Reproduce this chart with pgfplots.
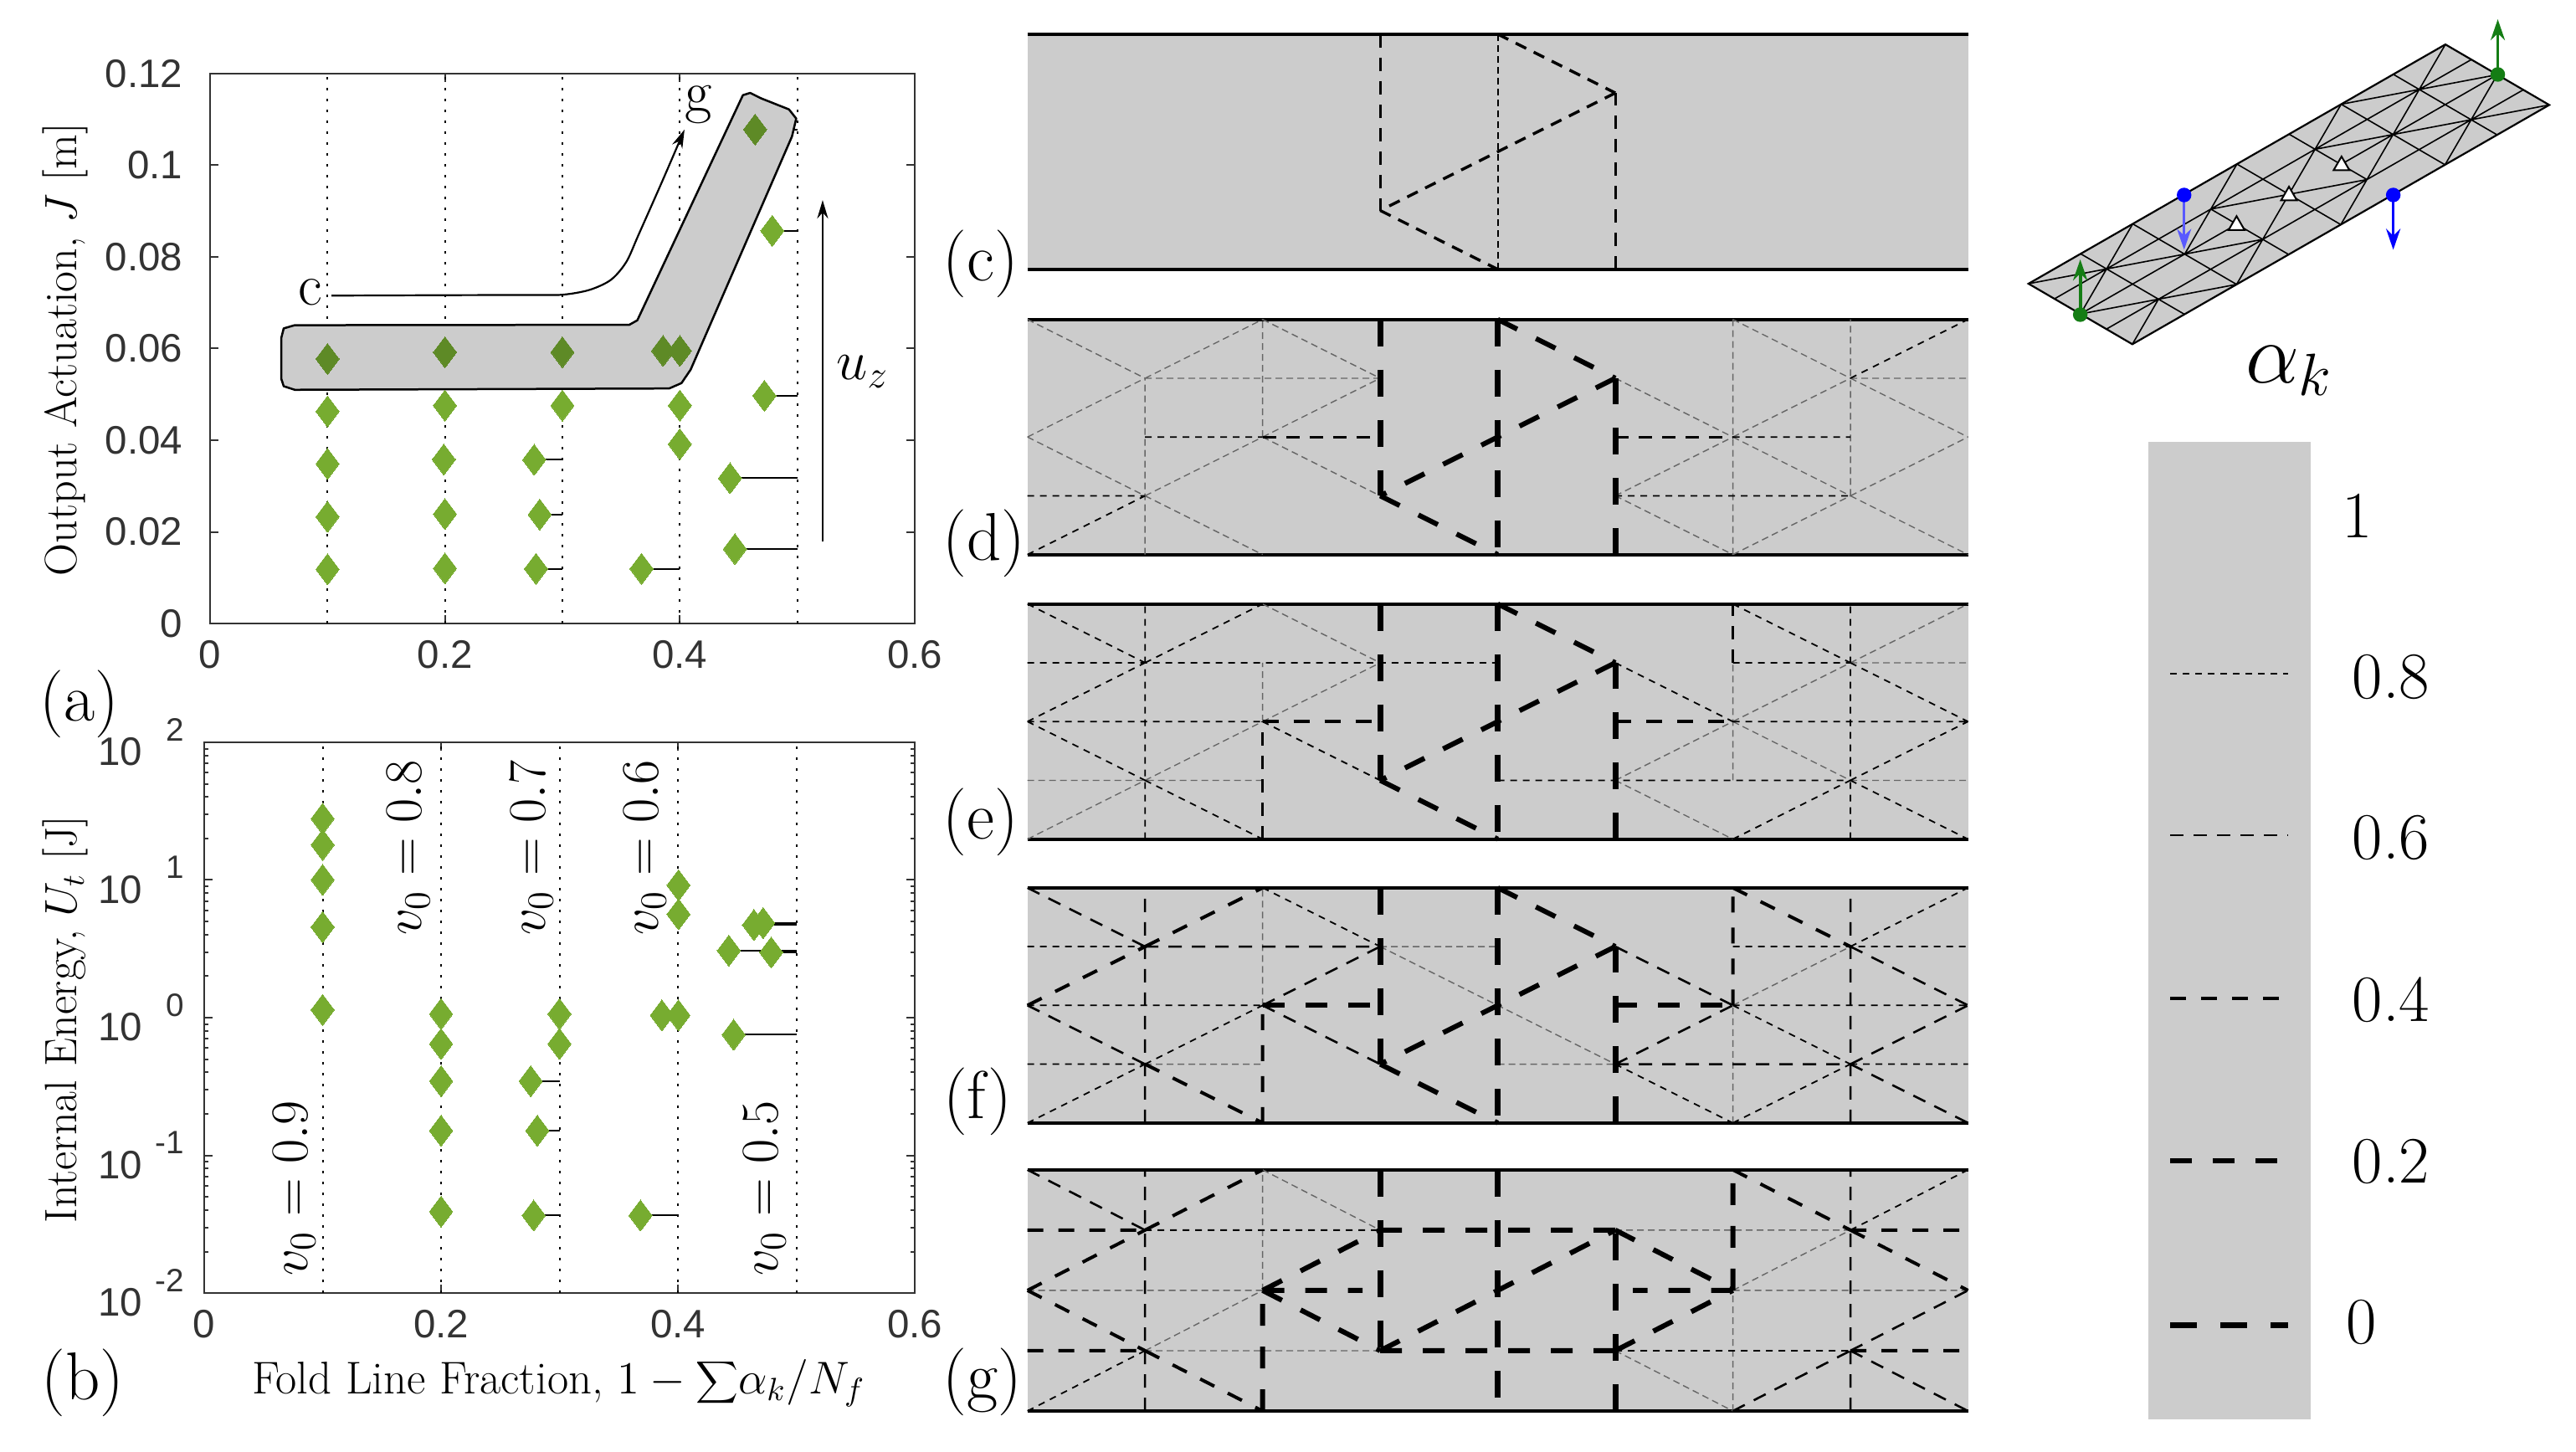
\documentclass[border=0pt]{standalone}
\usepackage{fix-cm}
\usepackage{fontspec}
\usepackage{pgfplots}
\pgfplotsset{compat=1.18}
\usetikzlibrary{arrows.meta}
\newfontfamily\tickfam{Liberation Sans}
\newcommand\fs[1]{\fontsize{#1}{#1}\selectfont}
\newcommand\expo[1]{\raisebox{0.62em}{\makebox[1.05em][r]{\fs{11}#1}}}
\definecolor{foldgray}{gray}{0.8}
\definecolor{axgray}{gray}{0.2}
\definecolor{leaf}{RGB}{119,172,48}
\definecolor{leafdark}{RGB}{94,138,38}
\definecolor{meshgreen}{RGB}{20,125,20}
\pgfplotsset{
  unbounded coords=jump,
  chart/.style={
    scale only axis, clip=false, axis line style={axgray, line width=0.025cm},
    tick style={axgray, line width=0.02cm}, tickwidth=0.1cm, subtickwidth=0.05cm,
    tick align=inside, xmin=0, xmax=0.6,
    xtick={0,0.2,0.4,0.6}, xticklabels={0,0.2,0.4,0.6},
    tick label style={font=\tickfam\fs{13.5}, text=axgray, inner sep=0pt, outer sep=0pt},
    xticklabel shift=0.2cm,
    anchor=south west},
  guide/.style={black, line width=0.02cm, dash pattern=on 0.03cm off 0.1cm},
  stem/.style={black, line width=0.02cm},
  pts/.style={only marks, color=#1, mark=diamond*, mark size=0.185cm, mark options={solid, draw=#1, fill=#1, line width=0pt}},
  panel/.style={hide axis, scale only axis, clip=false, xmin=0, xmax=8, ymin=0, ymax=4,
    width=11.238cm, anchor=south west},
  hair/.style={black!60, line width=0.014cm, dash pattern=on 0.08cm off 0.05cm},
  a08/.style={black, line width=0.018cm, dash pattern=on 0.08cm off 0.07cm},
  a06/.style={black, line width=0.026cm, dash pattern=on 0.16cm off 0.12cm},
  a04/.style={black, line width=0.04cm, dash pattern=on 0.19cm off 0.18cm},
  a02/.style={black, line width=0.06cm, dash pattern=on 0.26cm off 0.25cm},
  a00/.style={black, line width=0.07cm, dash pattern=on 0.32cm off 0.28cm},
  rim/.style={black, line width=0.04cm},
  load/.style={-{Stealth[length=0.25cm,width=0.17cm]}},
}
\newcommand\panelbase{%
  \addplot[fill=foldgray, draw=none] coordinates {(0,0)(8,0)(8,4)(0,4)} -- cycle;
  \addplot[rim] coordinates {(0,4)(8,4)};
  \addplot[rim] coordinates {(0,0)(8,0)};
}
\begin{document}
\begin{tikzpicture}
\path[use as bounding box] (0,0) rectangle (30.78cm,17.34cm);

% (a) output actuation
\begin{axis}[chart, at={(2.51cm,9.89cm)}, width=8.42cm, height=6.57cm,
  ymin=0, ymax=0.12, ytick={0,0.02,0.04,0.06,0.08,0.1,0.12},
  yticklabels={0,0.02,0.04,0.06,0.08,0.1,0.12}, yticklabel shift=0.33cm,
  ylabel={Output Actuation, $J$ [m]},
  y label style={at={(axis description cs:-0.205,0.498)}, anchor=center, font=\fs{15.4}}]
\addplot[guide] coordinates {(0.1,0)(0.1,0.12)};
\addplot[guide] coordinates {(0.2,0)(0.2,0.12)};
\addplot[guide] coordinates {(0.3,0)(0.3,0.12)};
\addplot[guide] coordinates {(0.4,0)(0.4,0.12)};
\addplot[guide] coordinates {(0.5,0)(0.5,0.12)};
\addplot[stem] coordinates {(0.276,0.03573)(0.3,0.03573)};
\addplot[stem] coordinates {(0.2807,0.02378)(0.3,0.02378)};
\addplot[stem] coordinates {(0.2775,0.01194)(0.3,0.01194)};
\addplot[stem] coordinates {(0.3674,0.01194)(0.4,0.01194)};
\addplot[stem] coordinates {(0.4641,0.1078)(0.5,0.1078)};
\addplot[stem] coordinates {(0.4787,0.0857)(0.5,0.0857)};
\addplot[stem] coordinates {(0.472,0.0497)(0.5,0.0497)};
\addplot[stem] coordinates {(0.4427,0.0317)(0.5,0.0317)};
\addplot[stem] coordinates {(0.4469,0.01625)(0.5,0.01625)};
\addplot[fill=foldgray, draw=black, line width=0.025cm, line join=round] coordinates {
  (0.0606,0.06225)(0.0627,0.0644)(0.0721,0.0651)(0.3570,0.06519)(0.3638,0.06617)
  (0.4537,0.1153)(0.4599,0.1158)(0.4693,0.1146)(0.4929,0.1122)(0.4991,0.1102)
  (0.4955,0.1063)(0.4092,0.0554)(0.4014,0.05246)(0.3909,0.05129)(0.0721,0.0510)
  (0.0627,0.05178)(0.0606,0.05344)} -- cycle;
\addplot[pts=leaf] coordinates {
  (0.1,0.0463)(0.1,0.03485)(0.1,0.0233)(0.1,0.01184)
  (0.2,0.04757)(0.199,0.0358)(0.2,0.0239)(0.2,0.01204)
  (0.3,0.04757)(0.276,0.03573)(0.2807,0.02378)(0.2775,0.01194)
  (0.4,0.04757)(0.4,0.03915)(0.3674,0.01194)
  (0.4787,0.0857)(0.472,0.0497)(0.4427,0.0317)(0.4469,0.01625)};
\addplot[pts=leafdark] coordinates {
  (0.1,0.05775)(0.2,0.0592)(0.3,0.0592)(0.3857,0.0595)(0.4,0.0595)(0.4641,0.1078)};
\addplot[black, line width=0.022cm, smooth, -{Stealth[length=0.22cm,width=0.13cm]}] coordinates {
  (0.1035,0.07155)(0.2,0.07165)(0.27,0.0717)(0.3,0.07175)(0.323,0.0728)(0.3413,0.075)(0.3544,0.0789)(0.3648,0.0848)(0.385,0.0965)(0.404,0.1078)};
\addplot[black, line width=0.025cm, -{Stealth[length=0.22cm,width=0.13cm]}] coordinates {(0.5216,0.0179)(0.5216,0.0924)};
\node[font=\fs{20}] at (axis cs:0.0852,0.0722) {c};
\node[font=\fs{20}] at (axis cs:0.416,0.1133) {g};
\node[font=\fs{19}] at (axis cs:0.5556,0.0549) {$u_z$};
\end{axis}

% (b) internal energy
\begin{axis}[chart, at={(2.44cm,1.89cm)}, width=8.49cm, height=6.58cm,
  ymode=log, ymin=0.01, ymax=100, ytick={0.01,0.1,1,10,100},
  yticklabels={10\expo{-2},10\expo{-1},10\expo{0},10\expo{1},10\expo{2}},
  yticklabel shift=0.24cm,
  ylabel={Internal Energy, $U_t$ [J]},
  xlabel={Fold Line Fraction, $1-{\displaystyle\sum}\alpha_k/N_f$},
  y label style={at={(axis description cs:-0.195,0.497)}, anchor=center, font=\fs{15.4}},
  x label style={at={(axis description cs:0.4987,-0.163)}, anchor=center, font=\fs{15.6}}]
\addplot[guide] coordinates {(0.1,0.01)(0.1,100)};
\addplot[guide] coordinates {(0.2,0.01)(0.2,100)};
\addplot[guide] coordinates {(0.3,0.01)(0.3,100)};
\addplot[guide] coordinates {(0.4,0.01)(0.4,100)};
\addplot[guide] coordinates {(0.5,0.01)(0.5,100)};
\addplot[stem] coordinates {(0.2757,0.346)(0.3,0.346)};
\addplot[stem] coordinates {(0.2813,0.151)(0.3,0.151)};
\addplot[stem] coordinates {(0.2782,0.0366)(0.3,0.0366)};
\addplot[stem] coordinates {(0.3684,0.0366)(0.4,0.0366)};
\addplot[stem] coordinates {(0.4642,4.72)(0.5,4.72)};
\addplot[stem] coordinates {(0.472,4.87)(0.5,4.87)};
\addplot[stem] coordinates {(0.443,3.07)(0.5,3.07)};
\addplot[stem] coordinates {(0.4788,2.98)(0.5,2.98)};
\addplot[stem] coordinates {(0.4471,0.752)(0.5,0.752)};
\addplot[pts=leaf] coordinates {
  (0.1,27.9)(0.1,18.0)(0.1,10.04)(0.1,4.55)(0.1,1.14)
  (0.2,1.064)(0.2,0.6457)(0.2,0.346)(0.2,0.151)(0.2,0.039)
  (0.3,1.064)(0.3,0.6457)(0.2757,0.346)(0.2813,0.151)(0.2782,0.0366)
  (0.3684,0.0366)(0.3865,1.04)(0.4005,1.04)(0.4005,9.16)(0.4005,5.64)
  (0.4642,4.72)(0.472,4.87)(0.443,3.07)(0.4788,2.98)(0.4471,0.752)};
\node[rotate=90, font=\fs{18}] at (rel axis cs:0.1265,0.1905) {$v_0=0.9$};
\node[rotate=90, font=\fs{18}] at (rel axis cs:0.2878,0.8088) {$v_0=0.8$};
\node[rotate=90, font=\fs{18}] at (rel axis cs:0.461,0.8088) {$v_0=0.7$};
\node[rotate=90, font=\fs{18}] at (rel axis cs:0.620,0.8088) {$v_0=0.6$};
\node[rotate=90, font=\fs{18}] at (rel axis cs:0.7885,0.1905) {$v_0=0.5$};
\end{axis}

% (c)
\begin{axis}[panel, at={(12.277cm,14.122cm)}, height=2.81cm]
\panelbase
\addplot[a06, line width=0.032cm] coordinates {(3,4)(3,1)};
\addplot[a06, line width=0.03cm] coordinates {(5,0)(5,3)};
\addplot[hair, black, line width=0.018cm] coordinates {(4,0)(4,4)};
\addplot[a04, line width=0.034cm, dash pattern=on 0.14cm off 0.1cm] coordinates {(4,4)(5,3)};
\addplot[a04, line width=0.034cm, dash pattern=on 0.14cm off 0.1cm] coordinates {(5,3)(3,1)};
\addplot[a04, line width=0.034cm, dash pattern=on 0.14cm off 0.1cm] coordinates {(3,1)(4,0)};
\end{axis}

% (d)
\begin{axis}[panel, at={(12.277cm,10.713cm)}, height=2.81cm]
\panelbase
\addplot[hair] coordinates {
  (0,4)(1,3) (0,nan) (1,3)(2,4) (0,nan) (2,4)(3,3) (0,nan) (0,2)(1,3) (0,nan) (2,2)(3,3) (0,nan) (0,2)(1,1) (0,nan)
  (1,1)(2,2) (0,nan) (1,1)(2,0) (0,nan) (2,2)(3,1) (0,nan) (5,3)(6,2) (0,nan) (5,1)(6,2) (0,nan) (5,1)(6,0) (0,nan)
  (6,0)(7,1) (0,nan) (7,1)(8,0) (0,nan) (6,2)(7,1) (0,nan) (7,1)(8,2) (0,nan) (6,2)(7,3) (0,nan) (7,3)(8,2) (0,nan)
  (6,4)(7,3) (0,nan) (1,0)(1,3) (0,nan) (2,2)(2,4) (0,nan) (6,0)(6,4) (0,nan) (7,1)(7,4) (0,nan)
  (1,3)(3,3) (0,nan) (7,3)(8,3)};
\addplot[a08] coordinates {(0,0)(1,1) (0,nan) (7,3)(8,4) (0,nan) (1,2)(2,2) (0,nan) (6,2)(7,2) (0,nan) (0,1)(1,1) (0,nan) (5,1)(7,1)};
\addplot[a06] coordinates {(2,2)(3,2) (0,nan) (5,2)(6,2)};
\addplot[a00] coordinates {(3,4)(3,1)};
\addplot[a00] coordinates {(4,4)(4,0)};
\addplot[a00] coordinates {(5,0)(5,3)};
\addplot[a02] coordinates {(4,4)(5,3)};
\addplot[a02] coordinates {(5,3)(3,1)};
\addplot[a02] coordinates {(3,1)(4,0)};
\end{axis}

% (e)
\begin{axis}[panel, at={(12.277cm,7.313cm)}, height=2.81cm]
\panelbase
\addplot[hair] coordinates {
  (2,4)(3,3) (0,nan) (2,2)(3,3) (0,nan) (0,0)(1,1) (0,nan) (1,1)(2,2) (0,nan) (5,1)(6,2) (0,nan) (5,1)(6,0) (0,nan)
  (6,2)(7,1) (0,nan) (6,2)(7,3) (0,nan) (7,3)(8,4) (0,nan) (2,2)(2,3) (0,nan) (6,1)(6,3) (0,nan) (7,3)(8,3) (0,nan)
  (0,1)(2,1) (0,nan) (7,1)(8,1)};
\addplot[a08] coordinates {
  (0,4)(1,3) (0,nan) (1,3)(2,4) (0,nan) (0,2)(1,3) (0,nan) (0,2)(1,1) (0,nan) (1,1)(2,0) (0,nan) (2,2)(3,1) (0,nan)
  (6,0)(7,1) (0,nan) (7,1)(8,0) (0,nan) (7,1)(8,2) (0,nan) (7,3)(8,2) (0,nan) (6,4)(7,3) (0,nan)
  (1,0)(1,4) (0,nan) (7,0)(7,4) (0,nan) (0,3)(4,3) (0,nan) (6,3)(7,3) (0,nan) (0,2)(2,2) (0,nan) (6,2)(8,2) (0,nan)
  (4,1)(7,1) (0,nan) (5,3)(6,2)};
\addplot[a06] coordinates {(2,0)(2,2) (0,nan) (6,3)(6,4)};
\addplot[a04] coordinates {(2,2)(3,2) (0,nan) (5,2)(6,2)};
\addplot[a00] coordinates {(3,4)(3,1)};
\addplot[a00] coordinates {(4,4)(4,0)};
\addplot[a00] coordinates {(5,0)(5,3)};
\addplot[a02] coordinates {(4,4)(5,3)};
\addplot[a02] coordinates {(5,3)(3,1)};
\addplot[a02] coordinates {(3,1)(4,0)};
\end{axis}

% (f)
\begin{axis}[panel, at={(12.277cm,3.922cm)}, height=2.81cm]
\panelbase
\addplot[hair] coordinates {(3,3)(5,1) (0,nan) (6,2)(7,3) (0,nan) (2,2)(2,4) (0,nan) (6,0)(6,2) (0,nan) (3,3)(4,3) (0,nan) (1,1)(2,1) (0,nan) (4,1)(5,1)};
\addplot[a08] coordinates {
  (2,4)(3,3) (0,nan) (0,0)(1,1) (0,nan) (1,1)(2,2) (0,nan) (5,1)(6,0) (0,nan) (6,0)(7,1) (0,nan) (6,2)(7,1) (0,nan) (7,3)(8,4) (0,nan)
  (0,3)(1,3) (0,nan) (6,3)(8,3) (0,nan) (0,2)(2,2) (0,nan) (6,2)(8,2) (0,nan) (0,1)(1,1) (0,nan) (7,1)(8,1)};
\addplot[a06] coordinates {
  (0,4)(1,3) (0,nan) (0,2)(1,1) (0,nan) (2,2)(3,3) (0,nan) (2,2)(3,1) (0,nan) (5,3)(6,2) (0,nan) (5,1)(6,2) (0,nan)
  (7,1)(8,0) (0,nan) (7,1)(8,2) (0,nan) (7,3)(8,2) (0,nan) (1,0)(1,4) (0,nan) (7,0)(7,4) (0,nan) (1,3)(3,3) (0,nan) (5,1)(7,1)};
\addplot[a04] coordinates {(1,3)(2,4) (0,nan) (0,2)(1,3) (0,nan) (1,1)(2,0) (0,nan) (6,4)(7,3) (0,nan) (2,0)(2,2) (0,nan) (6,2)(6,4)};
\addplot[a02] coordinates {(2,2)(3,2) (0,nan) (5,2)(6,2)};
\addplot[a00] coordinates {(3,4)(3,1)};
\addplot[a00] coordinates {(4,4)(4,0)};
\addplot[a00] coordinates {(5,0)(5,3)};
\addplot[a02] coordinates {(4,4)(5,3)};
\addplot[a02] coordinates {(5,3)(3,1)};
\addplot[a02] coordinates {(3,1)(4,0)};
\end{axis}

% (g)
\begin{axis}[panel, at={(12.277cm,0.48cm)}, height=2.882cm]
\panelbase
\addplot[hair] coordinates {
  (2,4)(3,3) (0,nan) (1,1)(2,2) (0,nan) (5,1)(6,0) (0,nan) (6,2)(7,3) (0,nan) (2,2)(2,4) (0,nan) (6,0)(6,2) (0,nan)
  (5,3)(7,3) (0,nan) (1,1)(3,1) (0,nan) (0,2)(2,2) (0,nan) (6,2)(8,2)};
\addplot[a08] coordinates {(0,0)(1,1) (0,nan) (7,3)(8,4) (0,nan) (1,3)(3,3) (0,nan) (5,1)(7,1)};
\addplot[a06] coordinates {(0,4)(1,3) (0,nan) (6,0)(7,1) (0,nan) (7,1)(8,0) (0,nan) (7,1)(8,2) (0,nan) (1,0)(1,4) (0,nan) (7,0)(7,4)};
\addplot[a04] coordinates {
  (1,3)(2,4) (0,nan) (0,2)(1,3) (0,nan) (0,2)(1,1) (0,nan) (1,1)(2,0) (0,nan) (6,4)(7,3) (0,nan) (7,3)(8,2) (0,nan)
  (0,3)(1,3) (0,nan) (7,3)(8,3) (0,nan) (0,1)(1,1) (0,nan) (7,1)(8,1)};
\addplot[a02] coordinates {
  (2,2)(3,3) (0,nan) (2,2)(3,1) (0,nan) (5,3)(6,2) (0,nan) (5,1)(6,2) (0,nan) (3,1)(5,3) (0,nan)
  (3,3)(5,3) (0,nan) (3,1)(5,1) (0,nan) (2,2)(2.85,2) (0,nan) (6,2)(5.15,2) (0,nan) (2,0)(2,2) (0,nan) (6,2)(6,4)};
\addplot[a00] coordinates {(3,4)(3,1)};
\addplot[a00] coordinates {(4,4)(4,0)};
\addplot[a00] coordinates {(5,0)(5,3)};
\end{axis}

% mesh, drawn on the fold pattern's own grid
\begin{axis}[hide axis, scale only axis, clip=false, anchor=origin, at={(24.238cm,13.95cm)},
  x={(0.6226cm,0.3574cm)}, y={(0.3102cm,-0.1808cm)}, xmin=0, xmax=8, ymin=0, ymax=4]
\addplot[fill=foldgray, draw=none] coordinates {(0,0)(8,0)(8,4)(0,4)} -- cycle;
\addplot[black, line width=0.016cm] coordinates {
  (0,4)(1,3) (0,nan) (1,3)(2,4) (0,nan) (2,4)(3,3) (0,nan) (0,2)(1,3) (0,nan) (2,2)(3,3) (0,nan) (0,2)(1,1) (0,nan)
  (0,0)(1,1) (0,nan) (1,1)(2,2) (0,nan) (1,1)(2,0) (0,nan) (2,2)(3,1) (0,nan) (3,1)(4,0) (0,nan) (3,1)(5,3) (0,nan)
  (4,4)(5,3) (0,nan) (3,3)(5,1) (0,nan) (5,3)(6,2) (0,nan) (5,1)(6,2) (0,nan) (5,1)(6,0) (0,nan) (6,0)(7,1) (0,nan)
  (7,1)(8,0) (0,nan) (6,2)(7,1) (0,nan) (7,1)(8,2) (0,nan) (6,2)(7,3) (0,nan) (7,3)(8,2) (0,nan) (6,4)(7,3) (0,nan)
  (7,3)(8,4) (0,nan)
  (0,1)(8,1) (0,nan) (0,3)(8,3) (0,nan) (0,2)(3,2) (0,nan) (5,2)(8,2) (0,nan)
  (1,0)(1,4) (0,nan) (2,0)(2,4) (0,nan) (3,1)(3,4) (0,nan) (4,0)(4,4) (0,nan) (5,0)(5,3) (0,nan) (6,0)(6,4) (0,nan) (7,0)(7,4)};
\addplot[black, line width=0.022cm] coordinates {(0,0)(8,0)(8,4)(0,4)} -- cycle;
\end{axis}

% picture-sized axis for the legend strip, the loads and the panel letters
\begin{axis}[hide axis, scale only axis, clip=false, at={(0cm,0cm)}, anchor=south west,
  width=30.78cm, height=17.34cm, xmin=0, xmax=3078, ymin=0, ymax=1734]
\addplot[fill=foldgray, draw=none] coordinates {(2567,38)(2761,38)(2761,1206)(2567,1206)} -- cycle;
\addplot[a08] coordinates {(2593,929)(2734,929)};
\addplot[a06] coordinates {(2593,736)(2734,736)};
\addplot[a04] coordinates {(2593,541)(2734,541)};
\addplot[a02] coordinates {(2593,347)(2734,347)};
\addplot[a00] coordinates {(2593,151)(2734,151)};
\node[font=\fs{22.5}] at (axis cs:2817,1118) {1};
\node[font=\fs{22.5}] at (axis cs:2857,925) {0.8};
\node[font=\fs{22.5}] at (axis cs:2857,733) {0.6};
\node[font=\fs{22.5}] at (axis cs:2857,539) {0.4};
\node[font=\fs{22.5}] at (axis cs:2857,346) {0.2};
\node[font=\fs{22.5}] at (axis cs:2822,154) {0};
\node[font=\fs{29}] at (axis cs:2735,1291) {$\alpha_k$};
\addplot[meshgreen, line width=0.04cm, load] coordinates {(2485.6,1358)(2485.6,1424)};
\addplot[meshgreen, line width=0.035cm, load] coordinates {(2984.5,1645)(2984.5,1711)};
\addplot[blue!65, line width=0.035cm, load] coordinates {(2609.7,1501)(2609.7,1435.5)};
\addplot[blue, line width=0.035cm, load] coordinates {(2859.6,1501)(2859.6,1435.5)};
\addplot[only marks, color=meshgreen, mark=*, mark size=0.08cm, mark options={draw=meshgreen, fill=meshgreen}] coordinates {(2485.6,1358)(2984.5,1645)};
\addplot[only marks, color=blue, mark=*, mark size=0.08cm, mark options={draw=blue, fill=blue}] coordinates {(2609.7,1501)(2859.6,1501)};
\addplot[only marks, mark=triangle*, mark size=0.11cm, mark options={draw=black, fill=white, line width=0.02cm}] coordinates {(2672.4,1464.7)(2735,1500)(2797.8,1536)};
\node[font=\fs{23}] at (axis cs:95,893) {(a)};
\node[font=\fs{23}] at (axis cs:99,82) {(b)};
\node[font=\fs{23}] at (axis cs:1172,1419) {(c)};
\node[font=\fs{23}] at (axis cs:1176,1085) {(d)};
\node[font=\fs{23}] at (axis cs:1172,752) {(e)};
\node[font=\fs{23}] at (axis cs:1168,418) {(f)};
\node[font=\fs{23}] at (axis cs:1174,83) {(g)};
\end{axis}
\end{tikzpicture}
\end{document}
